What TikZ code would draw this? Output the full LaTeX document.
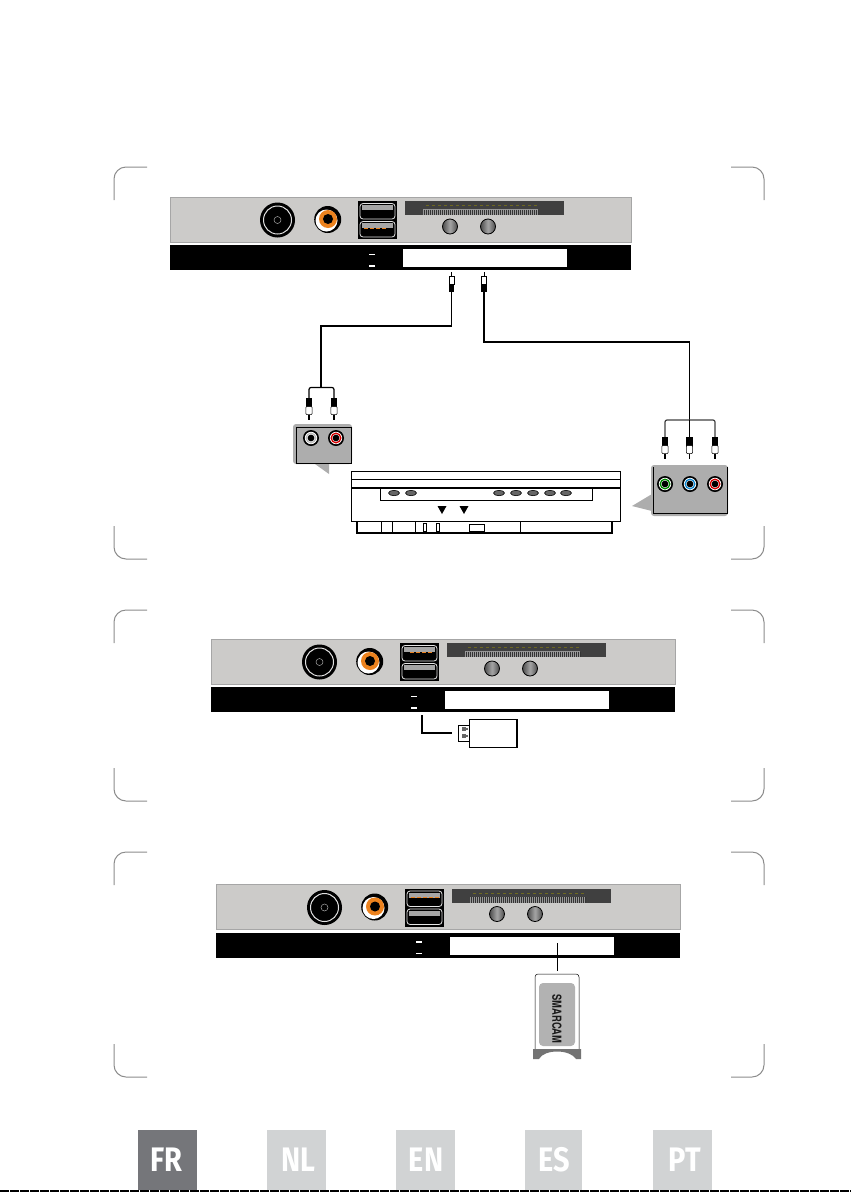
\documentclass[tikz,border=0pt]{standalone}
\usepackage{fontspec}
\newfontfamily\tabfont{Fira Sans}
\newfontfamily\cardfont{TeX Gyre Heros}
\usepackage{tikz}
\definecolor{panelgrey}{RGB}{204,203,201}
\definecolor{calloutgrey}{RGB}{173,173,173}
\definecolor{tabdark}{RGB}{117,118,122}
\definecolor{tablight}{RGB}{209,211,212}
\definecolor{plugorange}{RGB}{236,130,30}
\tikzset{
  bracket/.style={draw=black!45,line width=1pt},
  langtab/.style={text=white,font=\tabfont\bfseries\fontsize{34}{34}\selectfont,inner sep=0pt,xscale=0.85},
  wire/.style={draw=black,line width=1.2pt},
}
% back panel, drawn at its offset, #3 and #4 are the ends of the plate
\newcommand{\backpanel}[4]{
  \begin{scope}[shift={(#1,#2)}]
    \draw[draw=black!35,line width=0.9pt,fill=panelgrey] (#3,197) rectangle (#4,242);
    \fill[black] (#3,245) rectangle (#4,270);
    \fill[white] (403,249) rectangle (567,267);
    \fill[white] (369,253.5) rectangle (375,255);
    \fill[white] (369,265) rectangle (375,266.5);
    % coax
    \fill[black] (277.5,220) circle (17.5);
    \draw[black!12,line width=1pt] (277.5,220) circle (14);
    \draw[black!35,line width=0.5pt] (277.5,220) circle (3.5);
    % rca
    \fill[black] (327.7,219.5) circle (13.5);
    \fill[white] (326.5,220.5) circle (11);
    \fill[plugorange] (328,219) circle (9);
    \fill[black] (328,219) circle (5);
    % usb
    \fill[black] (358,201) rectangle (397,239);
    \draw[black!10,line width=0.8pt,rounded corners=3pt] (360,203.5) rectangle (395,219);
    \draw[black!10,line width=0.8pt,rounded corners=3pt] (360,221.5) rectangle (395,237);
    \fill[black!35] (362,205) rectangle (393,210);
    \fill[black!35] (362,223) rectangle (393,228);
    % card slot
    \fill[black!75] (405,201) rectangle (564,215);
    \fill[black!40] (423,209) rectangle (538,215);
    \foreach \t in {424,426,...,538}
      \draw[black!80,line width=0.4pt] (\t,209.5) -- (\t,215);
    \foreach \t in {426,432,...,534}
      \draw[olive!70!black,line width=0.5pt] (\t,205.5) -- (\t+3,205.5);
    % knobs
    \foreach \k in {450,488}{
      \shade[left color=black!70,right color=black!70,middle color=black!35] (\k,226.5) circle (7.5);
      \draw[black,line width=0.8pt] (\k,226.5) circle (7.5);
    }
  \end{scope}
}
% cinch plug, pointing up
\newcommand{\plugup}[2]{
  \draw[black,line width=0.9pt] (#1,#2) -- (#1,#2+4);
  \draw[black,line width=0.6pt,fill=white] (#1-2.7,#2+4) rectangle (#1+2.7,#2+12);
  \fill[black] (#1-2.7,#2+12) rectangle (#1+2.7,#2+20);
}
% cinch plug, pointing down
\newcommand{\plugdown}[2]{
  \fill[black] (#1-3.2,#2) rectangle (#1+3.2,#2+9);
  \draw[black,line width=0.5pt,fill=white,rounded corners=1pt] (#1-3.2,#2+9) rectangle (#1+3.2,#2+17);
  \draw[black,line width=1.2pt] (#1,#2+17) -- (#1,#2+22);
}
% jack on a callout
\newcommand{\jack}[3]{
  \fill[black] (#1,#2) circle (8);
  \fill[white] (#1,#2) circle (6.2);
  \draw[#3,line width=1.3pt] (#1,#2) circle (4.8);
  \fill[black] (#1,#2) circle (3.4);
}
\begin{document}
\begin{tikzpicture}[x=1pt,y=-1pt]
  \useasboundingbox (0,0) rectangle (851,1192);

  % corner brackets
  \foreach \top/\bot in {167/559,610/801,852/1077}{
    \draw[bracket] (147,\top) -- (126,\top) arc (90:180:12 and -12) -- (114,\top+33);
    \draw[bracket] (731,\top) -- (752,\top) arc (90:0:12 and -12) -- (764,\top+33);
    \draw[bracket] (114,\bot-33) -- (114,\bot-12) arc (180:270:12 and -12) -- (147,\bot);
    \draw[bracket] (764,\bot-33) -- (764,\bot-12) arc (0:-90:12 and -12) -- (731,\bot);
  }

  \backpanel{0}{0}{170}{631}
  \backpanel{42}{442}{169}{633}
  \backpanel{47}{687.5}{169}{633}
  % usb tongues
  \foreach \d in {364,370,...,386}
    \fill[plugorange] (\d,228) rectangle (\d+3.5,229.2);
  \foreach \d in {410,416,...,428}
    \fill[plugorange] (\d,651.5) rectangle (\d+3.5,652.7);
  \foreach \d in {411,417,...,435}
    \fill[plugorange] (\d,896.5) rectangle (\d+3.5,897.7);

  % av cables
  \plugup{451.5}{272}
  \plugup{484}{272}
  \coordinate (plugleft) at (451.5,292);
  \coordinate (plugright) at (484,292);
  \coordinate (forkleft) at (321,387);
  \coordinate (forkright) at (689.5,420);
  \draw[wire] (plugleft) -- (451.5,326) -- (321,326) -- (forkleft);
  \draw[wire] (plugright) -- (484,342) -- (689.5,342) -- (forkright);
  \draw[wire,rounded corners=2pt] (309,398) -- (309,387.5) -- (334,387.5) -- (334,398);
  \draw[wire,black!75,rounded corners=2pt] (665,437) -- (665,420) -- (715,420) -- (715,437);
  \draw[wire] (forkright) -- (689.5,437);

  \plugdown{309}{397.5}
  \plugdown{334}{397.5}
  \plugdown{665}{436.5}
  \plugdown{689.5}{436.5}
  \plugdown{715}{436.5}

  % left callout
  \fill[calloutgrey,rounded corners=3pt] (293,424) rectangle (352,464);
  \fill[calloutgrey] (315,464) -- (329,474) -- (329,463) -- cycle;
  \draw[black,line width=0.8pt] (296,427) rectangle (351,463);
  \jack{311}{438}{black!25}
  \jack{336}{438}{red!85!black}

  % right callout
  \fill[calloutgrey,rounded corners=3pt] (651,465) rectangle (728,516);
  \fill[calloutgrey] (652,494) -- (632,506) -- (652,511) -- cycle;
  \draw[black,line width=0.8pt] (653,467) -- (653,513) -- (727,513) -- (727,467);
  \jack{665}{484}{green!55!black}
  \jack{690}{484}{cyan!70!blue}
  \jack{715}{484}{red!85!black}

  % receiver
  \draw[black,line width=1pt] (351,471) rectangle (620,521);
  \draw[black,line width=0.8pt] (351,479) -- (620,479);
  \draw[black,line width=1.4pt] (351,488) -- (620,488);
  \draw[black,line width=1pt] (380,488) -- (380,500) -- (592,500) -- (592,488);
  \foreach \b in {394,411,499,516,533,550,566}
    \draw[black,line width=0.6pt,fill=black!60] (\b,493) ellipse (5.5 and 2.7);
  \foreach \b in {442,464}
    \fill[black] (\b-4.5,506) -- (\b+4.5,506) -- (\b,514) -- cycle;
  \draw[black,line width=1.4pt] (357,521) -- (357,533) -- (612,533) -- (612,521);
  \foreach \b in {381,392,415,520}
    \draw[black,line width=0.7pt] (\b,521) -- (\b,533);
  \foreach \b in {423,436}
    \draw[black,line width=0.8pt] (\b,523) rectangle (\b+3.5,531);
  \draw[black,line width=1pt] (469,524) rectangle (484,531);

  % usb stick
  \draw[black,line width=0.9pt] (458,725) rectangle (469,741);
  \draw[black,line width=1pt,fill=white] (469,719) rectangle (517,747);
  \draw[black,line width=1.4pt] (517,719) -- (517,747);
  \foreach \c in {729,736}{
    \fill[black!60] (462,\c-2) rectangle (466,\c+2);
    \fill[black!60] (466,\c-1) rectangle (468,\c+1);
  }
  \coordinate (usbport) at (422,715);
  \coordinate (usbstick) at (452,733);
  \draw[black,line width=1.2pt] (usbport) -- (422,733) -- (usbstick);

  % smart card
  \coordinate (cardslot) at (557,943);
  \coordinate (cardtop) at (557,971);
  \draw[black,line width=0.7pt] (cardslot) -- (cardtop);
  \draw[black,line width=0.5pt,rounded corners=3pt] (535,1049) -- (535,974) -- (579,974) -- (579,1049);
  \fill[black!30,rounded corners=4pt] (539,983) rectangle (575,1046);
  \node[rotate=-90,xscale=0.75,font=\cardfont\bfseries\fontsize{12.5}{12.5}\selectfont,text=black!90,inner sep=0pt] (cardname) at (557,1019) {SMARCAM};
  \fill[black!55] (533,1049) -- (581,1049) -- (581,1059) -- (576,1059) .. controls (570,1049) and (544,1049) .. (539,1059) -- (533,1059) -- cycle;

  % language tabs
  \fill[tabdark] (138,1130) rectangle (197,1190);
  \foreach \a/\b in {267/326,396/455,525/582,653/712}
    \fill[tablight] (\a,1130) rectangle (\b,1190);
  \node[langtab] (tabfr) at (166.7,1160) {FR};
  \node[langtab] (tabnl) at (298,1160) {NL};
  \node[langtab] (taben) at (426,1160) {EN};
  \node[langtab] (tabes) at (554,1160) {ES};
  \node[langtab] (tabpt) at (685,1160) {PT};
  \draw[black,line width=1.5pt,dash pattern=on 9pt off 1pt] (0,1191.2) -- (851,1191.2);
\end{tikzpicture}
\end{document}
